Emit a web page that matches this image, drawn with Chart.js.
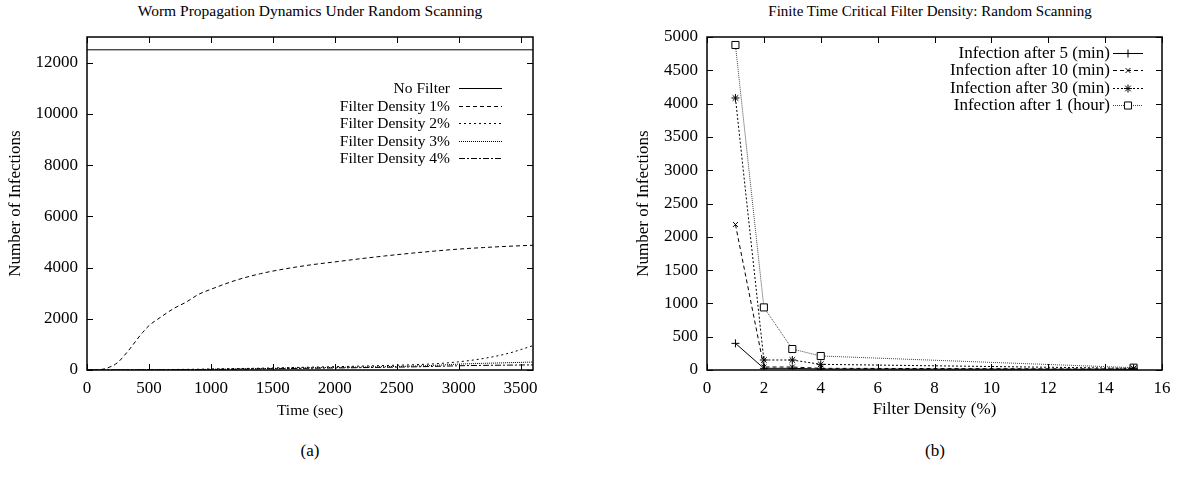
<!DOCTYPE html>
<html>
<head>
<meta charset="utf-8">
<script src="https://cdn.jsdelivr.net/npm/chart.js@4.4.1/dist/chart.umd.min.js"></script>
<style>
  body { margin: 0; background: #fff; width: 1179px; height: 497px; position: relative; overflow: hidden; font-family: "Liberation Serif", serif; color: #000; }
  .box { position: absolute; top: 0; height: 420px; }
  .ttl { position: absolute; white-space: nowrap; transform: translateX(-50%); }
  .sub { position: absolute; top: 441px; font-size: 17px; transform: translateX(-50%); }
</style>
</head>
<body>
<div class="ttl" style="left:310px;top:2px;font-size:15.5px">Worm Propagation Dynamics Under Random Scanning</div>
<div class="ttl" style="left:930px;top:3px;font-size:15px">Finite Time Critical Filter Density: Random Scanning</div>
<div class="box" style="left:0;width:600px"><canvas id="wormChart"></canvas></div>
<div class="box" style="left:600px;width:579px"><canvas id="densityChart"></canvas></div>
<div class="sub" style="left:310px">(a)</div>
<div class="sub" style="left:935px">(b)</div>

<script>
// (a) infections over time, sampled at these seconds
const timeSec = [0, 100, 200, 250, 300, 350, 400, 450, 500, 600, 700, 800, 900, 1000, 1200, 1400, 1600, 1800, 2000, 2200, 2400, 2600, 2800, 3000, 3200, 3400, 3600];
const noFilterTimes = [0, 3600];
const noFilter = [12500, 12500];
const density1 = [0, 10, 150, 300, 560, 850, 1170, 1470, 1730, 2080, 2400, 2650, 2950, 3150, 3500, 3760, 3950, 4100, 4220, 4340, 4450, 4550, 4640, 4720, 4780, 4830, 4870];
const density2 = [0, 0, 2, 3, 5, 6, 8, 9, 10, 15, 20, 25, 30, 40, 55, 70, 90, 110, 130, 150, 175, 200, 240, 320, 450, 650, 950];
const density3 = [0, 0, 1, 2, 3, 4, 5, 6, 7, 10, 13, 16, 20, 28, 40, 55, 70, 85, 100, 115, 130, 150, 180, 230, 260, 285, 310];
const density4 = [0, 0, 1, 1, 2, 3, 4, 4, 5, 7, 9, 11, 14, 20, 30, 42, 55, 68, 80, 92, 105, 120, 140, 165, 180, 190, 200];
const timeTicks = [0, 500, 1000, 1500, 2000, 2500, 3000, 3500];
const infectionTicksA = [0, 2000, 4000, 6000, 8000, 10000, 12000];

// (b) infections vs filter density (%)
const densities = [1, 2, 3, 4, 15];
const after5min = [400, 25, 25, 15, 10];
const after10min = [2185, 45, 45, 25, 15];
const after30min = [4084, 150, 150, 85, 25];
const after1hour = [4880, 940, 315, 210, 35];
const densityTicks = [0, 2, 4, 6, 8, 10, 12, 14, 16];
const infectionTicksB = [0, 500, 1000, 1500, 2000, 2500, 3000, 3500, 4000, 4500, 5000];

Chart.defaults.font.family = '"Liberation Serif", serif';
Chart.defaults.color = '#000';

const pts = (xs, ys) => xs.map((x, i) => ({ x: x, y: ys[i] }));

// gnuplot look: closed frame, ticks pointing inwards on all four sides, key top right
const gnuFrame = {
  id: 'gnuFrame',
  afterDatasetsDraw(chart, args, opts) {
    const { ctx, chartArea: a, scales: { x, y } } = chart;
    ctx.save();
    ctx.strokeStyle = '#000';
    ctx.lineWidth = 1;
    ctx.setLineDash([]);
    ctx.beginPath();
    x.ticks.forEach(t => {
      const px = Math.round(x.getPixelForValue(t.value)) + 0.5;
      ctx.moveTo(px, a.bottom); ctx.lineTo(px, a.bottom - 6);
      ctx.moveTo(px, a.top); ctx.lineTo(px, a.top + 6);
    });
    y.ticks.forEach(t => {
      const py = Math.round(y.getPixelForValue(t.value)) + 0.5;
      ctx.moveTo(a.left, py); ctx.lineTo(a.left + 6, py);
      ctx.moveTo(a.right, py); ctx.lineTo(a.right - 6, py);
    });
    ctx.stroke();
    ctx.lineWidth = 1.5;
    ctx.strokeRect(a.left, a.top, a.width, a.height);

    // key
    ctx.font = opts.fontSize + 'px "Liberation Serif", serif';
    ctx.textAlign = 'right';
    ctx.textBaseline = 'middle';
    ctx.fillStyle = '#000';
    const textRight = a.right - opts.fromRight;
    chart.data.datasets.forEach((ds, i) => {
      const yy = Math.round(a.top + opts.fromTop + i * opts.rowGap) + 0.5;
      ctx.fillText(ds.label, textRight, yy);
      const x0 = textRight + opts.gap, x1 = x0 + opts.sample;
      ctx.strokeStyle = ds.borderColor;
      ctx.lineWidth = ds.borderWidth;
      ctx.setLineDash(ds.borderDash || []);
      ctx.beginPath();
      ctx.moveTo(x0, yy); ctx.lineTo(x1, yy);
      ctx.stroke();
      if (ds.pointRadius > 0) {
        ctx.setLineDash([]);
        ctx.fillStyle = '#fff';
        ctx.strokeStyle = '#000';
        Chart.helpers.drawPoint(ctx, { pointStyle: ds.pointStyle, radius: ds.pointRadius, rotation: 0, borderWidth: 1 }, (x0 + x1) / 2, yy);
        ctx.fillStyle = '#000';
      }
    });
    ctx.restore();
  }
};

function axisY(label, max, tickValues, width, titleSize, titlePad) {
  return {
    type: 'linear', min: 0, max: max,
    afterBuildTicks: s => { s.ticks = tickValues.map(v => ({ value: v })); },
    ticks: { padding: 9, font: { size: 17 }, callback: v => String(v) },
    grid: { display: false, drawTicks: false },
    border: { display: false },
    title: { display: true, text: label, font: { size: titleSize }, padding: { top: titlePad, bottom: 0 } },
    afterFit: s => { s.width = width; }
  };
}

function axisX(label, max, tickValues, titleSize) {
  return {
    type: 'linear', min: 0, max: max,
    afterBuildTicks: s => { s.ticks = tickValues.map(v => ({ value: v })); },
    ticks: { padding: 8, maxRotation: 0, autoSkip: false, font: { size: 17 }, callback: v => String(v) },
    grid: { display: false, drawTicks: false },
    border: { display: false },
    title: { display: true, text: label, font: { size: titleSize }, padding: 0 },
    afterFit: s => { s.height = 50; }
  };
}

function curve(label, xs, ys, dash) {
  return {
    label: label, data: pts(xs, ys),
    borderColor: '#000', borderWidth: 1, borderDash: dash,
    pointRadius: 0, cubicInterpolationMode: 'monotone', fill: false
  };
}

new Chart(document.getElementById('wormChart'), {
  type: 'line',
  data: {
    datasets: [
      curve('No Filter', noFilterTimes, noFilter, []),
      curve('Filter Density 1%', timeSec, density1, [4, 3]),
      curve('Filter Density 2%', timeSec, density2, [2, 3]),
      curve('Filter Density 3%', timeSec, density3, [1, 1]),
      curve('Filter Density 4%', timeSec, density4, [6, 2, 2, 2])
    ]
  },
  options: {
    responsive: true,
    maintainAspectRatio: false,
    animation: false,
    layout: { padding: { top: 37, right: 67, left: 0, bottom: 0 } },
    plugins: {
      legend: { display: false },
      tooltip: { enabled: false },
      gnuFrame: { fontSize: 15.5, fromRight: 83, fromTop: 51, rowGap: 17.5, gap: 9, sample: 43 }
    },
    scales: {
      x: axisX('Time (sec)', 3600, timeTicks, 15.5),
      y: axisY('Number of Infections', 13000, infectionTicksA, 87, 17, 5)
    }
  },
  plugins: [gnuFrame]
});

function marked(label, ys, dash, style, radius, color) {
  return {
    label: label, data: pts(densities, ys),
    borderColor: color, borderWidth: 1, borderDash: dash,
    pointStyle: style, pointRadius: radius, pointBorderColor: '#000', pointBorderWidth: 1,
    pointBackgroundColor: '#fff', tension: 0, fill: false
  };
}

new Chart(document.getElementById('densityChart'), {
  type: 'line',
  data: {
    datasets: [
      marked('Infection after 5 (min)', after5min, [], 'cross', 4, '#000'),
      marked('Infection after 10 (min)', after10min, [4, 3], 'crossRot', 3.5, '#000'),
      marked('Infection after 30 (min)', after30min, [2, 2], 'star', 4, '#000'),
      marked('Infection after 1 (hour)', after1hour, [1, 1], 'rect', 5, '#444')
    ]
  },
  options: {
    responsive: true,
    maintainAspectRatio: false,
    animation: false,
    layout: { padding: { top: 37, right: 17, left: 0, bottom: 0 } },
    plugins: {
      legend: { display: false },
      tooltip: { enabled: false },
      gnuFrame: { fontSize: 17, fromRight: 52, fromTop: 16, rowGap: 17.4, gap: 3, sample: 30 }
    },
    scales: {
      x: axisX('Filter Density (%)', 16, densityTicks, 17),
      y: axisY('Number of Infections', 5000, infectionTicksB, 107, 17, 33)
    }
  },
  plugins: [gnuFrame]
});
</script>
</body>
</html>
